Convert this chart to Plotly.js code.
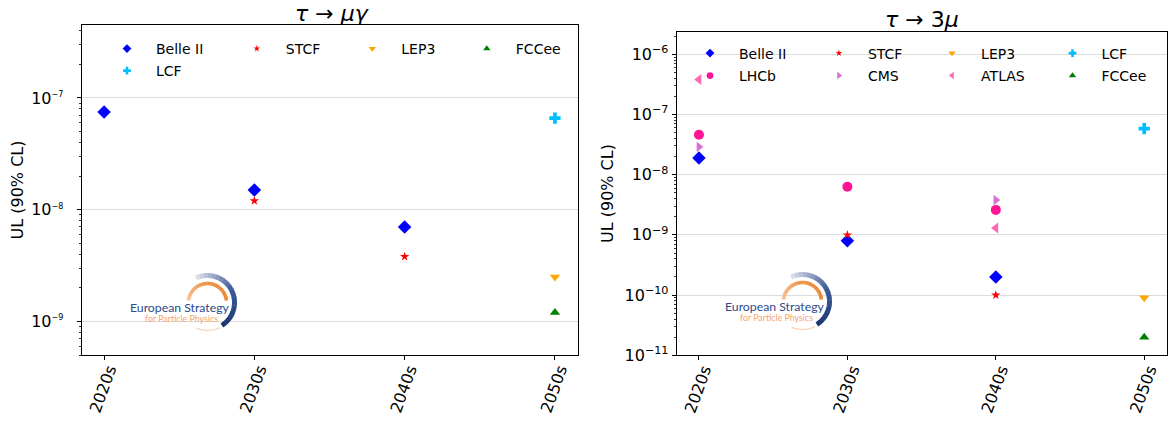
<!DOCTYPE html>
<html>
<head>
<meta charset="utf-8">
<script src="https://cdn.plot.ly/plotly-3.0.1.min.js"></script>
<style>html,body{margin:0;padding:0;background:#fff;}#chart{width:1173px;height:423px;}</style>
</head>
<body>
<div id="chart"></div>
<script>
// ---------- data ----------
const categories = ['2020s', '2030s', '2040s', '2050s'];

// tau -> mu gamma
const mg_belle2 = [7.5e-8, 1.5e-8, 7.0e-9, null];
const mg_stcf   = [null, 1.2e-8, 3.8e-9, null];
const mg_lep3   = [null, null, null, 2.5e-9];
const mg_fccee  = [null, null, null, 1.2e-9];
const mg_lcf    = [null, null, null, 6.6e-8];

// tau -> 3 mu
const m3_belle2 = [1.9e-8, 8.0e-10, 2.0e-10, null];
const m3_stcf   = [null, 1.0e-9, 1.0e-10, null];
const m3_lep3   = [null, null, null, 9.0e-11];
const m3_lcf    = [null, null, null, 5.8e-8];
const m3_lhcb   = [4.6e-8, 6.3e-9, 2.6e-9, null];
const m3_cms    = [2.9e-8, null, 3.8e-9, null];
const m3_atlas  = [3.8e-7, null, 1.3e-9, null];
const m3_fccee  = [null, null, null, 2.0e-11];

// y tick labels
const leftTickVals  = [1e-9, 1e-8, 1e-7];
const leftTickText  = ['10<sup><span style="font-size:8px">−9</span></sup>',
                       '10<sup><span style="font-size:8px">−8</span></sup>',
                       '10<sup><span style="font-size:8px">−7</span></sup>'];
const rightTickVals = [1e-11, 1e-10, 1e-9, 1e-8, 1e-7, 1e-6];
const rightTickText = ['10<sup>−11</sup>', '10<sup>−10</sup>', '10<sup>−9</sup>',
                       '10<sup>−8</sup>', '10<sup>−7</sup>', '10<sup>−6</sup>'];

const titleLeft = '<i>τ</i> → <i>μγ</i>';
const titleRight = '<i>τ</i> → 3<i>μ</i>';
const yTitle = 'UL (90% CL)';

// ---------- styles ----------
const W = 1173, H = 423;
const FONT = 'DejaVu Sans, sans-serif';
const st = {
  'Belle II': {symbol: 'diamond', color: '#0000ff', size: 10.4, lsize: 6.8},
  'STCF':     {symbol: 'star', color: '#ff0000', size: 7, lsize: 5},
  'LEP3':     {symbol: 'triangle-down', color: '#ffa500', size: 9, lsize: 6.5},
  'FCCee':    {symbol: 'triangle-up', color: '#008000', size: 9, lsize: 6.5},
  'LCF':      {symbol: 'cross', color: '#00bfff', size: 9.4, lsize: 6.5},
  'LHCb':     {symbol: 'circle', color: '#ff1493', size: 10, lsize: 6.7},
  'CMS':      {symbol: 'triangle-right', color: '#da70d6', size: 9, lsize: 6.5},
  'ATLAS':    {symbol: 'triangle-left', color: '#ff69b4', size: 9.5, lsize: 6.5}
};

const px = v => v / W;
const py = v => 1 - v / H;

const traces = [];
function dataTrace(name, y, xa, ya) {
  const s = st[name];
  traces.push({type: 'scatter', mode: 'markers', name: name, x: categories, y: y,
    xaxis: xa, yaxis: ya, showlegend: false, hoverinfo: 'x+y+name',
    marker: {symbol: s.symbol, color: s.color, size: s.size, line: {width: 0}}});
}
function legendTrace(name, legend, xa, ya, lw) {
  const s = st[name];
  traces.push({type: 'scatter', mode: 'markers', name: name, x: [null], y: [null],
    xaxis: xa, yaxis: ya, showlegend: true, legend: legend, legendwidth: lw,
    marker: {symbol: s.symbol, color: s.color, size: s.lsize, line: {width: 0}}});
}

// left panel
dataTrace('Belle II', mg_belle2, 'x', 'y');
dataTrace('STCF', mg_stcf, 'x', 'y');
dataTrace('LEP3', mg_lep3, 'x', 'y');
dataTrace('FCCee', mg_fccee, 'x', 'y');
dataTrace('LCF', mg_lcf, 'x', 'y');
// right panel
dataTrace('Belle II', m3_belle2, 'x2', 'y2');
dataTrace('STCF', m3_stcf, 'x2', 'y2');
dataTrace('LEP3', m3_lep3, 'x2', 'y2');
dataTrace('LCF', m3_lcf, 'x2', 'y2');
dataTrace('LHCb', m3_lhcb, 'x2', 'y2');
dataTrace('CMS', m3_cms, 'x2', 'y2');
dataTrace('ATLAS', m3_atlas, 'x2', 'y2');
dataTrace('FCCee', m3_fccee, 'x2', 'y2');

// legends in a 4-column layout (per-column text widths in px)
const lwLeft = [66.8, 52.5, 51.5, 57];
const lwRight = [65.9, 50.2, 57.4, 57];
['Belle II', 'STCF', 'LEP3', 'FCCee'].forEach((n, i) => legendTrace(n, 'legend', 'x', 'y', lwLeft[i]));
['LCF'].forEach((n, i) => legendTrace(n, 'legend2', 'x', 'y', lwLeft[i]));
['Belle II', 'STCF', 'LEP3', 'LCF'].forEach((n, i) => legendTrace(n, 'legend3', 'x2', 'y2', lwRight[i]));
['LHCb', 'CMS', 'ATLAS', 'FCCee'].forEach((n, i) => legendTrace(n, 'legend4', 'x2', 'y2', lwRight[i]));

// ---------- axes ----------
function xAxis(domain, anchor) {
  return {domain: domain, anchor: anchor, type: 'category', categoryorder: 'array',
    categoryarray: categories, range: [-0.15, 3.15], showgrid: false, zeroline: false,
    showline: true, linecolor: '#000', linewidth: 1, mirror: true,
    ticks: 'outside', ticklen: 4, tickwidth: 1, tickcolor: '#000',
    tickangle: -70, ticklabelshift: 5, ticklabelstandoff: -6,
    tickfont: {family: FONT, size: 16, color: '#000'}, fixedrange: true, automargin: false};
}
function yAxis(domain, anchor, range, tv, tt, so, tso) {
  return {domain: domain, anchor: anchor, type: 'log', range: range,
    tickmode: 'array', tickvals: tv, ticktext: tt, ticklabelstandoff: so,
    showgrid: true, gridcolor: '#dcdcdc', gridwidth: 1,
    zeroline: false, showline: true, linecolor: '#000', linewidth: 1, mirror: true,
    ticks: 'outside', ticklen: 4, tickwidth: 1, tickcolor: '#000',
    minor: {ticks: 'outside', ticklen: 2, tickwidth: 0.8, tickcolor: '#000', dtick: 'D1', showgrid: false},
    tickfont: {family: FONT, size: 16, color: '#000'},
    title: {text: yTitle, font: {family: FONT, size: 16, color: '#000'}, standoff: tso},
    fixedrange: true, automargin: false};
}

// ---------- logo ----------
const shapes = [];
const annotations = [];
function hex(c) { return [parseInt(c.slice(1,3),16), parseInt(c.slice(3,5),16), parseInt(c.slice(5,7),16)]; }
function mix(c1, c2, t) {
  const a = hex(c1), b = hex(c2);
  return 'rgb(' + a.map((v, i) => Math.round(v + (b[i] - v) * t)).join(',') + ')';
}
function arc(cx, cy, r, a0, a1, n) {
  let d = '';
  for (let i = 0; i <= n; i++) {
    const a = (a0 + (a1 - a0) * i / n) * Math.PI / 180;
    const x = cx + r * Math.cos(a), y = cy - r * Math.sin(a);
    d += (i === 0 ? 'M' : 'L') + px(x).toFixed(5) + ',' + py(y).toFixed(5);
  }
  return d;
}
function gradArc(cx, cy, r, a0, a1, w, stops, segs) {
  for (let k = 0; k < segs; k++) {
    const s0 = a0 + (a1 - a0) * k / segs;
    const s1 = a0 + (a1 - a0) * (k + 1) / segs + (k < segs - 1 ? (a1 > a0 ? 1 : -1) : 0);
    const t = (k + 0.5) / segs;
    let col;
    if (t <= stops[1][0]) col = mix(stops[0][1], stops[1][1], t / stops[1][0]);
    else col = mix(stops[1][1], stops[2][1], (t - stops[1][0]) / (1 - stops[1][0]));
    shapes.push({type: 'path', xref: 'paper', yref: 'paper', layer: 'above',
      path: arc(cx, cy, r, s0, s1, 6), line: {color: col, width: w}});
  }
}
function logo(dx, dy) {
  shapes.push({type: 'rect', xref: 'paper', yref: 'paper', layer: 'between',
    x0: px(94 + dx), x1: px(281.7 + dx), y0: py(262 + dy), y1: py(345 + dy),
    fillcolor: '#ffffff', line: {width: 0}});
  const cx = 207.5 + dx, cy = 302.5 + dy;
  shapes.push({type: 'path', xref: 'paper', yref: 'paper', layer: 'above',
    path: arc(cx, cy, 28, -113, -63, 12), line: {color: '#fbd9c0', width: 1.5}});
  gradArc(cx, cy, 27, 115, -58, 5, [[0, '#e2e4ee'], [0.5, '#3e5a98'], [1, '#18356f']], 20);
  gradArc(cx, cy, 19, 174, 6, 3.6, [[0, '#f8c39b'], [0.45, '#f09447'], [1, '#ee8636']], 14);
  annotations.push({xref: 'paper', yref: 'paper', x: px(127.6 + dx), y: py(307.5 + dy),
    xanchor: 'left', yanchor: 'middle', showarrow: false, text: 'European Strategy',
    font: {family: 'Lato, sans-serif', size: 12.25, color: '#2c4a8c'}});
  annotations.push({xref: 'paper', yref: 'paper', x: px(143 + dx), y: py(318.5 + dy),
    xanchor: 'left', yanchor: 'middle', showarrow: false, text: 'for Particle Physics',
    font: {family: 'Lato, sans-serif', size: 8.8, color: '#f4a56d'}});
}
logo(0, 0);
logo(595, -1);

// panel titles
annotations.push({xref: 'paper', yref: 'paper', x: px(332), y: py(13), xanchor: 'center',
  yanchor: 'middle', showarrow: false, text: titleLeft, font: {family: FONT, size: 22, color: '#000'}});
annotations.push({xref: 'paper', yref: 'paper', x: px(921.5), y: py(20), xanchor: 'center',
  yanchor: 'middle', showarrow: false, text: titleRight, font: {family: FONT, size: 22, color: '#000'}});

function legendCfg(xPx, yPx) {
  return {orientation: 'h', x: px(xPx), y: py(yPx), xanchor: 'left', yanchor: 'top',
    itemwidth: 48, entrywidthmode: 'pixels', bgcolor: 'rgba(0,0,0,0)', borderwidth: 0,
    traceorder: 'normal', font: {family: FONT, size: 14, color: '#000'}, itemclick: false,
    itemdoubleclick: false};
}

const layout = {
  width: W, height: H, margin: {l: 0, r: 0, t: 0, b: 0},
  paper_bgcolor: '#fff', plot_bgcolor: '#fff', showlegend: true,
  font: {family: FONT, color: '#000'},
  xaxis: xAxis([81.5 / W, 577.5 / W], 'y'),
  yaxis: yAxis([1 - 355 / H, 1 - 25 / H], 'x', [Math.log10(5e-10), Math.log10(4.5e-7)], leftTickVals, leftTickText, 10, 3.5),
  xaxis2: xAxis([676.7 / W, 1166.5 / W], 'y2'),
  yaxis2: yAxis([1 - 355.3 / H, 1 - 31.7 / H], 'x2', [-11, -5.625], rightTickVals, rightTickText, 0, 6),
  legend: legendCfg(98, 33),
  legend2: legendCfg(98, 55),
  legend3: legendCfg(681, 37.5),
  legend4: legendCfg(681, 60),
  shapes: shapes,
  annotations: annotations
};

Plotly.newPlot('chart', traces, layout, {displayModeBar: false, staticPlot: true});
</script>
</body>
</html>
